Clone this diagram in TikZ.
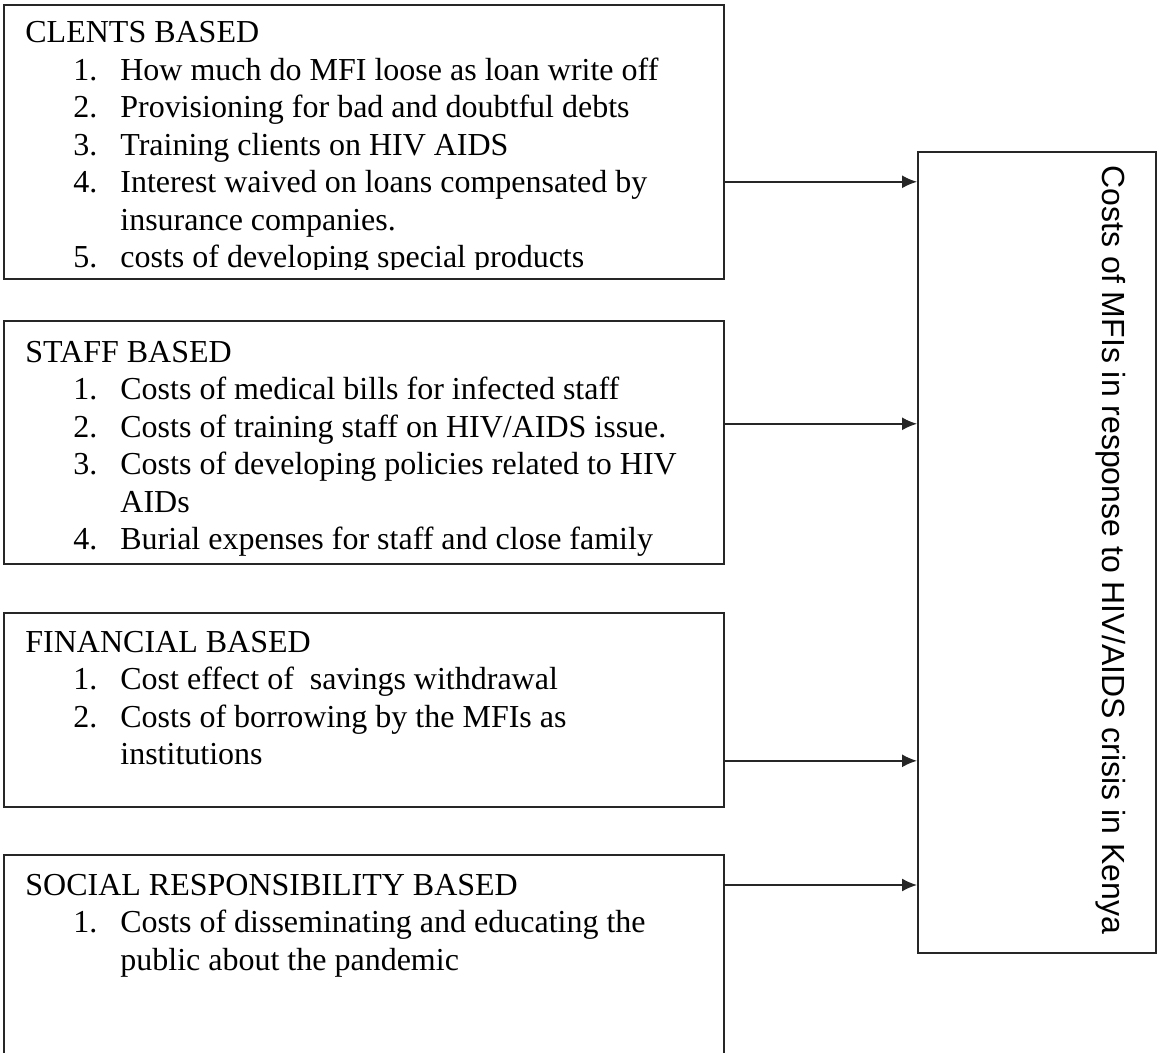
\documentclass[tikz,border=0pt]{standalone}
\usepackage{fontspec}
\setmainfont{Liberation Serif}
\newfontfamily\arialfont{Liberation Sans}
\usetikzlibrary{arrows.meta, positioning}

% numbered line inside a group
\newcommand{\itm}[1]{\hspace*{24pt}\makebox[23.5pt][l]{#1}}

\begin{document}
\begin{tikzpicture}[x=0.5pt, y=-0.5pt, >={Latex[length=7.5pt, width=6.5pt]},
		group/.style={rectangle, draw=black!85, line width=0.8pt, anchor=north west, minimum width=360pt, inner sep=0pt},
		list/.style={anchor=base west, align=left, inner sep=0pt, font=\fontsize{16}{18.75}\selectfont},
		flow/.style={->, draw=black!85, line width=0.8pt}]
		
		\useasboundingbox (0,0) rectangle (1160,1053);
		
		% Groups
		\node[group, minimum height=137pt] (clients) at (3,4) {};
		\node[group, minimum height=121.5pt] (staff) at (3,320) {};
		\node[group, minimum height=97pt] (financial) at (3,612) {};
		\node[group, minimum height=104pt] (social) at (3,854) {};
		
		% Result
		\node[rectangle, draw=black!85, line width=0.8pt, anchor=north west, minimum width=119pt, minimum height=400.5pt, inner sep=0pt] (costs) at (917,151) {};
		\node[rotate=-90, anchor=base, inner sep=0pt, font=\arialfont\fontsize{16}{19}\selectfont] (coststxt) at ([xshift=33pt, yshift=1.25pt]costs.center) {Costs of MFIs in response to HIV/AIDS crisis in Kenya};
		
		% Lists (anchored on their last line)
		\begin{scope}
			\clip (clients.north west) rectangle ([yshift=5pt]clients.south east);
			\node[list] (clientstxt) at ([xshift=11pt, yshift=-132pt]clients.north west) {CLENTS BASED\\
				\itm{1.}How much do MFI loose as loan write off\\
				\itm{2.}Provisioning for bad and doubtful debts\\
				\itm{3.}Training clients on HIV AIDS\\
				\itm{4.}Interest waived on loans compensated by\\
				\itm{}insurance companies.\\
				\itm{5.}costs of developing special products};
		\end{scope}
		\node[list] (stafftxt) at ([xshift=11pt, yshift=-114.75pt]staff.north west) {STAFF BASED\\
			\itm{1.}Costs of medical bills for infected staff\\
			\itm{2.}Costs of training staff on HIV/AIDS issue.\\
			\itm{3.}Costs of developing policies related to HIV\\
			\itm{}AIDs\\
			\itm{4.}Burial expenses for staff and close family};
		\node[list] (financialtxt) at ([xshift=11pt, yshift=-76.25pt]financial.north west) {FINANCIAL BASED\\
			\itm{1.}Cost effect of \ savings withdrawal\\
			\itm{2.}Costs of borrowing by the MFIs as\\
			\itm{}institutions};
		\node[list] (socialtxt) at ([xshift=11pt, yshift=-58pt]social.north west) {SOCIAL RESPONSIBILITY BASED\\
			\itm{1.}Costs of disseminating and educating the\\
			\itm{}public about the pandemic};
		
		% Arrows
		\draw[flow] ([yshift=-20pt]clients.east) coordinate (c1) -- (c1 -| costs.west);
		\draw[flow] ([yshift=9.25pt]staff.east) coordinate (c2) -- (c2 -| costs.west);
		\draw[flow] ([yshift=-25.5pt]financial.east) coordinate (c3) -- (c3 -| costs.west);
		\draw[flow] ([yshift=-15.5pt]social.north east) coordinate (c4) -- (c4 -| costs.west);
		
	\end{tikzpicture}
\end{document}
